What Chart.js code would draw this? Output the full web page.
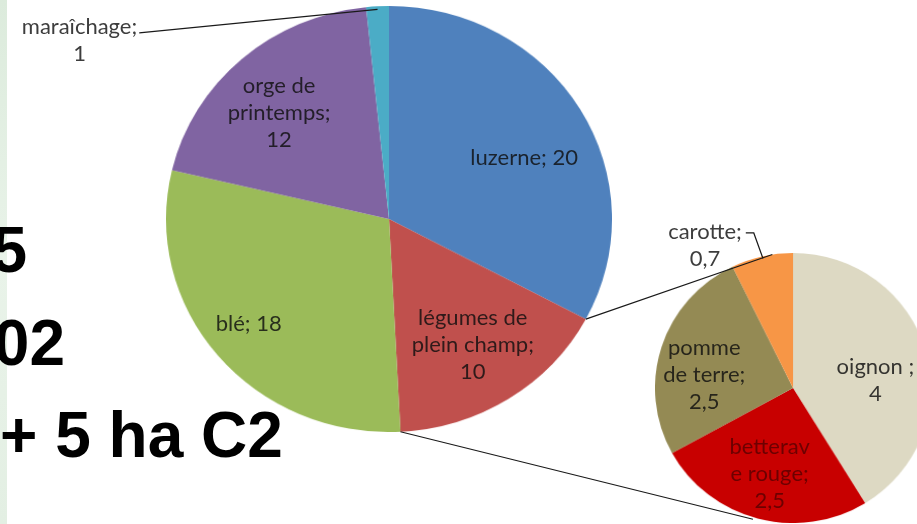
<!DOCTYPE html>
<html>
<head>
<meta charset="utf-8">
<script src="https://cdn.jsdelivr.net/npm/chart.js@4.4.1/dist/chart.umd.min.js"></script>
<style>
  html, body { margin:0; padding:0; width:917px; height:524px; overflow:hidden; background:#ffffff; }
  #strip { position:absolute; left:0; top:0; width:7px; height:524px;
           background:linear-gradient(#dcebdc, #e9f3e9 50%, #e3efe3); }
  .big { position:absolute; font-family:"Liberation Sans", Arial, sans-serif; font-weight:bold;
         font-size:64px; line-height:64px; color:#000; white-space:nowrap; }
  canvas { position:absolute; }
</style>
</head>
<body>
<div id="strip"></div>
<div class="big" style="right:890px; top:218px;">5</div>
<div class="big" style="right:852px; top:311px;">02</div>
<div class="big" style="left:0px; top:403px;">+ 5 ha C2</div>
<canvas id="mainPie" width="432" height="432" style="left:166px; top:6px; width:446px; height:426px;"></canvas>
<canvas id="subPie" width="272" height="272" style="left:655px; top:253px; width:276px; height:270px;"></canvas>
<canvas id="overlay" width="917" height="524" style="left:0; top:0; width:917px; height:524px;"></canvas>
<script>
// ---- DATA ----
const mainCategories = ['luzerne', 'légumes de\nplein champ', 'blé', 'orge de\nprintemps', 'maraîchage'];
const mainValues     = [20, 10, 18, 12, 1];
const mainSeparators = ['; ', ';\n', '; ', ';\n', ';\n'];

const subCategories  = ['oignon ', 'betterav\ne rouge', 'pomme\nde terre', 'carotte'];
const subValues      = [4, 2.5, 2.5, 0.7];
const subSeparators  = [';\n', ';\n', ';\n', ';\n'];

// ---- STYLE ----
const mainColors = ['#4F81BD', '#C0504D', '#9BBB59', '#8064A2', '#4BACC6'];
const subColors  = ['#DDD9C3', '#C80000', '#948A54', '#F79646'];
const FONT = '22px Lato, "Open Sans", sans-serif';
const LINE_H = 27;

function fmt(v){ return String(v).replace('.', ','); }

function makePie(id, labels, values, colors){
  return new Chart(document.getElementById(id), {
    type: 'pie',
    data: { labels: labels, datasets: [{ data: values, backgroundColor: colors, borderWidth: 0 }] },
    options: {
      responsive: false, animation: false,
      layout: { padding: 0 },
      plugins: { legend: { display: false }, tooltip: { enabled: false } }
    }
  });
}

const mainChart = makePie('mainPie', mainCategories, mainValues, mainColors);
const subChart  = makePie('subPie', subCategories, subValues, subColors);

// Label placement (fraction of radius along mid-angle + angle nudge, or outside with offset)
const mainLabelCfg = [
  {f:0.67, da:0.10}, {f:0.70}, {f:0.80, da:0.03}, {f:0.70, da:-0.06},
  {outside:true, dx:-298, dy:34, leader:'straight'}
];
const subLabelCfg = [
  {f:0.60, da:0.18}, {f:0.66}, {f:0.65, da:-0.16},
  {outside:true, dx:-57, dy:-11, leader:'bracket'}
];
const subLabelColors = [null, 'rgba(70,0,0,0.7)', null, null];

function geomOf(chart){
  const c = chart.canvas;
  return { x: parseFloat(c.style.left), y: parseFloat(c.style.top),
           sx: parseFloat(c.style.width)/chart.width, sy: parseFloat(c.style.height)/chart.height };
}
function pt(arc, g, ang, r){
  return { x: g.x + (arc.x + Math.cos(ang)*r)*g.sx, y: g.y + (arc.y + Math.sin(ang)*r)*g.sy };
}

const ov = document.getElementById('overlay').getContext('2d');

function drawLines(ctx, lines, cx, cy, color){
  ctx.fillStyle = color;
  ctx.textAlign = 'center';
  ctx.textBaseline = 'middle';
  const h = lines.length * LINE_H;
  lines.forEach((ln, i) => ctx.fillText(ln, cx, cy - h/2 + LINE_H*(i+0.5)));
}

function drawLabels(chart, cats, vals, seps, cfgs, colors){
  const meta = chart.getDatasetMeta(0);
  const g = geomOf(chart);
  ov.font = FONT;
  meta.data.forEach((arc, i) => {
    const p = arc.getProps(['x','y','startAngle','endAngle','outerRadius'], true);
    const cfg = cfgs[i];
    const mid = (p.startAngle + p.endAngle)/2 + (cfg.da || 0);
    const text = (cats[i] + seps[i] + fmt(vals[i])).split('\n');
    const col = (colors && colors[i]) || 'rgba(15,15,15,0.82)';
    if (!cfg.outside){
      const c = pt(p, g, mid, p.outerRadius * cfg.f);
      drawLines(ov, text, c.x, c.y, col);
    } else {
      const edge = pt(p, g, mid, p.outerRadius);
      const cx = edge.x + cfg.dx, cy = edge.y + cfg.dy;
      drawLines(ov, text, cx, cy, 'rgba(40,40,40,0.9)');
      const w = Math.max(...text.map(t => ov.measureText(t).width));
      const top = cy - text.length*LINE_H/2;
      ov.strokeStyle = '#1a1a1a';
      ov.lineWidth = 1.2;
      ov.beginPath();
      if (cfg.leader === 'straight'){
        ov.moveTo(cx + w/2 + 2, top + LINE_H*0.5 + 6);
        ov.lineTo(edge.x, edge.y + 3);
      } else {
        const yy = top + LINE_H*0.5 + 1;
        ov.moveTo(cx + w/2 + 4, yy);
        ov.lineTo(cx + w/2 + 12, yy);
        ov.lineTo(edge.x + 1, edge.y + 2);
      }
      ov.stroke();
    }
  });
}

function drawConnectors(){
  const mArc = mainChart.getDatasetMeta(0).data[1].getProps(['x','y','startAngle','endAngle','outerRadius'], true);
  const mg = geomOf(mainChart);
  const sArc = subChart.getDatasetMeta(0).data[0].getProps(['x','y','outerRadius'], true);
  const sg = geomOf(subChart);
  const deg = Math.PI/180;
  const a1 = pt(mArc, mg, mArc.startAngle, mArc.outerRadius);
  const a2 = pt(mArc, mg, mArc.endAngle, mArc.outerRadius);
  const b1 = pt(sArc, sg, -90*deg - 8.6*deg, sArc.outerRadius);
  const b2 = pt(sArc, sg, 90*deg + 16.6*deg, sArc.outerRadius + 2);
  ov.strokeStyle = '#1a1a1a';
  ov.lineWidth = 1.2;
  ov.beginPath();
  ov.moveTo(a1.x, a1.y); ov.lineTo(b1.x, b1.y);
  ov.moveTo(a2.x, a2.y); ov.lineTo(b2.x, b2.y);
  ov.stroke();
}

drawConnectors();
drawLabels(mainChart, mainCategories, mainValues, mainSeparators, mainLabelCfg, null);
drawLabels(subChart, subCategories, subValues, subSeparators, subLabelCfg, subLabelColors);
</script>
</body>
</html>
